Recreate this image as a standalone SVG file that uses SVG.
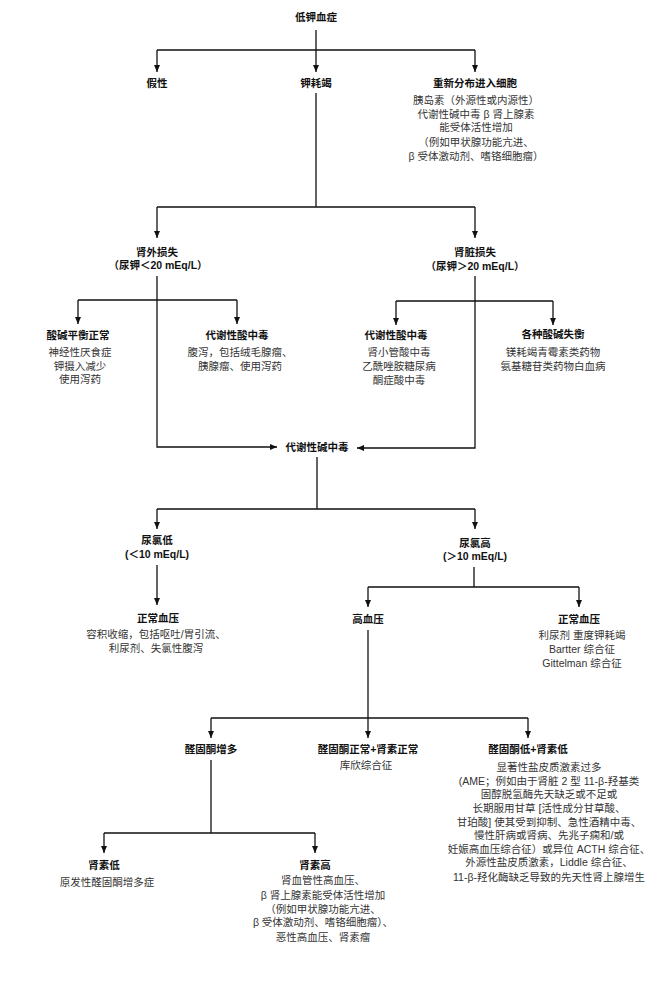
<svg xmlns="http://www.w3.org/2000/svg" width="668" height="985" viewBox="0 0 668 985">
<style>
text{font-family:"Liberation Sans","Noto Sans CJK SC",sans-serif;font-size:10.5px;text-anchor:middle;dominant-baseline:central;fill:#333}
.h{font-weight:bold;fill:#111}
.c{fill:none;stroke:#111;stroke-width:1.3}
.a{marker-end:url(#ah)}
</style>
<defs>
<marker id="ah" markerUnits="userSpaceOnUse" markerWidth="8" markerHeight="8" viewBox="0 0 8 8" refX="7" refY="4" orient="auto">
<path d="M0,1 L7,4 L0,7 Z" fill="#111"/>
</marker>
</defs>
<rect width="668" height="985" fill="#fff"/>
<g id="connectors">
<path class="c a" d="M316,30 V72"/>
<path class="c" d="M157,50 H475"/>
<path class="c a" d="M157,50 V72"/>
<path class="c a" d="M475,50 V72"/>
<path class="c" d="M316,93 V207 M157,207 H475"/>
<path class="c a" d="M157,207 V238"/>
<path class="c a" d="M475,207 V238"/>
<path class="c a" d="M157,276 V447 H277"/>
<path class="c" d="M78,300 H237"/>
<path class="c a" d="M78,300 V324"/>
<path class="c a" d="M237,300 V324"/>
<path class="c a" d="M475,276 V448 H357"/>
<path class="c" d="M396,301 H553"/>
<path class="c a" d="M396,301 V325"/>
<path class="c a" d="M553,301 V325"/>
<path class="c" d="M317,457 V509 M157,509 H475"/>
<path class="c a" d="M157,509 V529"/>
<path class="c a" d="M475,509 V529"/>
<path class="c a" d="M157,565 V605"/>
<path class="c" d="M474,567 V587 M368,587 H579"/>
<path class="c a" d="M368,587 V607"/>
<path class="c a" d="M579,587 V607"/>
<path class="c a" d="M368,630 V738"/>
<path class="c" d="M211,718 H528"/>
<path class="c a" d="M211,718 V738"/>
<path class="c a" d="M528,718 V738"/>
<path class="c" d="M211,760 V833 M104,833 H315"/>
<path class="c a" d="M104,833 V853"/>
<path class="c a" d="M315,833 V853"/>
</g>
<g id="n-root"><text class="h" x="316" y="17">低钾血症</text></g>
<g id="n-pseudo"><text class="h" x="157" y="83">假性</text></g>
<g id="n-depletion"><text class="h" x="316" y="83">钾耗竭</text></g>
<g id="n-redistribution">
<text class="h" x="475" y="83">重新分布进入细胞</text>
<text x="476" y="100">胰岛素（外源性或内源性）</text>
<text x="476" y="114">代谢性碱中毒 β 肾上腺素</text>
<text x="476" y="127">能受体活性增加</text>
<text x="476" y="142">（例如甲状腺功能亢进、</text>
<text x="476" y="156">β 受体激动剂、嗜铬细胞瘤）</text>
</g>
<g id="n-extrarenal">
<text class="h" x="157" y="252">肾外损失</text>
<text class="h" x="158" y="265">（尿钾＜20 mEq/L）</text>
</g>
<g id="n-renal">
<text class="h" x="475" y="252">肾脏损失</text>
<text class="h" x="475" y="266">（尿钾＞20 mEq/L）</text>
</g>
<g id="n-acidbase-normal">
<text class="h" x="78" y="335">酸碱平衡正常</text>
<text x="80" y="352">神经性厌食症</text>
<text x="80" y="366">钾摄入减少</text>
<text x="80" y="379">使用泻药</text>
</g>
<g id="n-metacid-1">
<text class="h" x="237" y="335">代谢性酸中毒</text>
<text x="240" y="352">腹泻，包括绒毛腺瘤、</text>
<text x="240" y="366">胰腺瘤、使用泻药</text>
</g>
<g id="n-metacid-2">
<text class="h" x="396" y="335">代谢性酸中毒</text>
<text x="399" y="352">肾小管酸中毒</text>
<text x="399" y="366">乙酰唑胺糖尿病</text>
<text x="399" y="380">酮症酸中毒</text>
</g>
<g id="n-various">
<text class="h" x="553" y="334">各种酸碱失衡</text>
<text x="553" y="352">镁耗竭青霉素类药物</text>
<text x="553" y="366">氨基糖苷类药物白血病</text>
</g>
<g id="n-metalk"><text class="h" x="317" y="447">代谢性碱中毒</text></g>
<g id="n-ucl-low">
<text class="h" x="157" y="540">尿氯低</text>
<text class="h" x="157" y="554">(＜10 mEq/L)</text>
</g>
<g id="n-ucl-high">
<text class="h" x="475" y="543">尿氯高</text>
<text class="h" x="475" y="556">(＞10 mEq/L)</text>
</g>
<g id="n-normbp-1">
<text class="h" x="158" y="618">正常血压</text>
<text x="156" y="634">容积收缩，包括呕吐/胃引流、</text>
<text x="156" y="648">利尿剂、失氯性腹泻</text>
</g>
<g id="n-hypertension"><text class="h" x="368" y="619">高血压</text></g>
<g id="n-normbp-2">
<text class="h" x="579" y="619">正常血压</text>
<text x="582" y="635">利尿剂 重度钾耗竭</text>
<text x="582" y="649">Bartter 综合征</text>
<text x="582" y="663">Gittelman 综合征</text>
</g>
<g id="n-aldo-high"><text class="h" x="211" y="749">醛固酮增多</text></g>
<g id="n-aldo-normal">
<text class="h" x="368" y="749">醛固酮正常+肾素正常</text>
<text x="366" y="765">库欣综合征</text>
</g>
<g id="n-aldo-low">
<text class="h" x="528" y="749">醛固酮低+肾素低</text>
<text x="549" y="767">显著性盐皮质激素过多</text>
<text x="549" y="781">(AME；例如由于肾脏 2 型 11-β-羟基类</text>
<text x="549" y="794">固醇脱氢酶先天缺乏或不足或</text>
<text x="549" y="808">长期服用甘草 [活性成分甘草酸、</text>
<text x="549" y="822">甘珀酸] 使其受到抑制、急性酒精中毒、</text>
<text x="549" y="835">慢性肝病或肾病、先兆子痫和/或</text>
<text x="549" y="849">妊娠高血压综合征）或异位 ACTH 综合征、</text>
<text x="549" y="862">外源性盐皮质激素，Liddle 综合征、</text>
<text x="549" y="877">11-β-羟化酶缺乏导致的先天性肾上腺增生</text>
</g>
<g id="n-renin-low">
<text class="h" x="104" y="865">肾素低</text>
<text x="107" y="882">原发性醛固酮增多症</text>
</g>
<g id="n-renin-high">
<text class="h" x="315" y="865">肾素高</text>
<text x="323" y="880">肾血管性高血压、</text>
<text x="323" y="895">β 肾上腺素能受体活性增加</text>
<text x="323" y="909">（例如甲状腺功能亢进、</text>
<text x="323" y="922">β 受体激动剂、嗜铬细胞瘤）、</text>
<text x="323" y="937">恶性高血压、肾素瘤</text>
</g>
</svg>
